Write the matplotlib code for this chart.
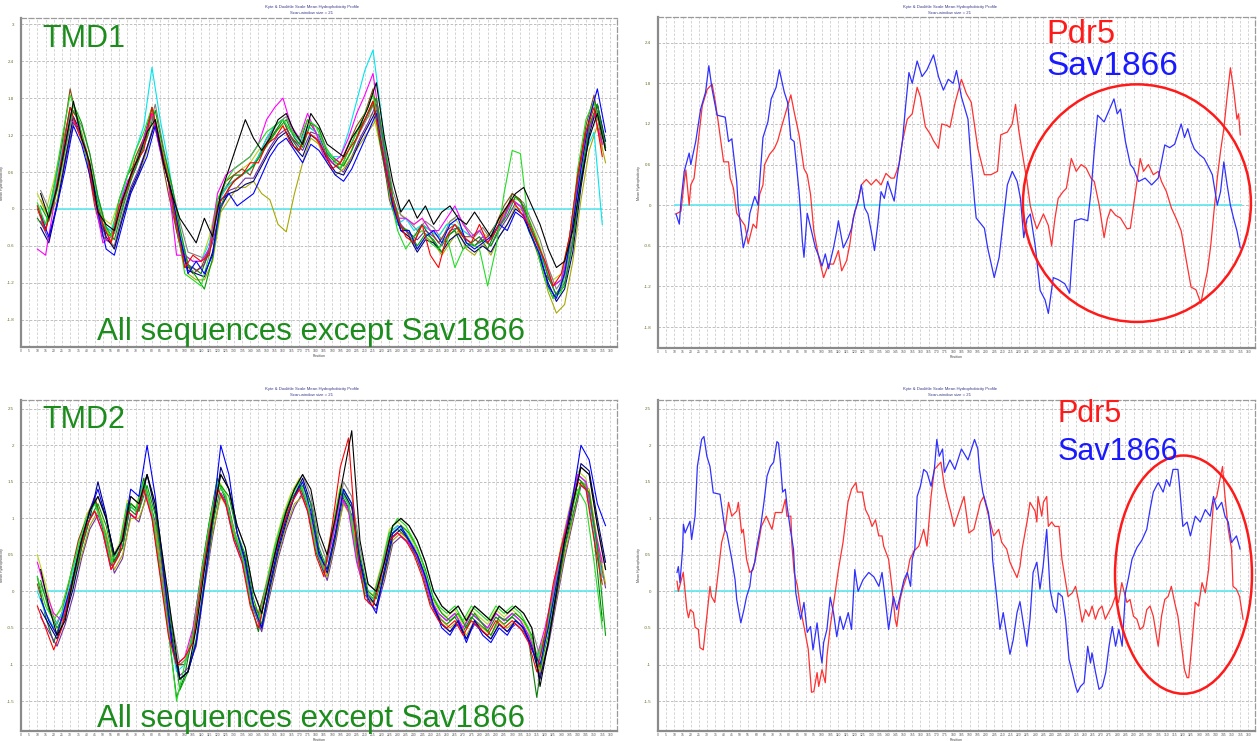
import matplotlib
matplotlib.use('Agg')
import matplotlib.pyplot as plt
from matplotlib.patches import Ellipse
import numpy as np

plt.rcParams['font.family'] = ['Liberation Sans', 'DejaVu Sans']

# ---------------- data ----------------
# left panels: profiles sampled every 5 residues (two interleaved read-off grids)
grid_a = list(range(10, 356, 5))
grid_b = list(range(12, 358, 5))

tmd1_black = [0.25, -0.15, 0.35, 1.05, 1.75, 1.15, 0.75, -0.05, -0.25, -0.35,
              0.15, 0.55, 0.85, 1.25, 1.45, 0.75, 0.25, -0.15, -0.35, -0.55,
              -0.15, -0.45, 0.25, 0.65, 1.05, 1.45, 1.15, 0.95, 1.15, 1.45,
              1.55, 1.25, 1.05, 1.55, 1.35, 1.05, 0.95, 0.85, 1.15, 1.35,
              1.65, 2.05, 1.15, 0.45, -0.05, 0.15, -0.15, 0.05, -0.25, -0.05,
              0.05, -0.15, -0.25, -0.05, -0.25, -0.45, -0.15, 0.05, 0.25, 0.35,
              0.05, -0.25, -0.65, -0.95, -0.85, -0.35, 0.45, 1.15, 1.55, 0.95]
tmd1_red = [0.05, -0.35, 0.15, 0.85, 1.65, 1.25, 0.95, 0.15, -0.25, -0.55,
            0.05, 0.35, 0.75, 0.95, 1.65, 1.05, 0.45, -0.25, -0.95, -0.75,
            -0.85, -0.75, 0.05, 0.25, 0.45, 0.55, 0.75, 0.75, 1.05, 1.15,
            1.35, 1.05, 0.95, 1.25, 1.15, 0.95, 0.65, 0.75, 0.95, 1.15,
            1.45, 1.75, 1.05, 0.35, -0.15, -0.45, -0.55, -0.25, -0.75, -0.95,
            -0.45, -0.25, -0.45, -0.55, -0.25, -0.55, -0.35, -0.05, 0.15, -0.05,
            -0.25, -0.55, -0.85, -1.25, -1.05, -0.45, 0.55, 1.25, 1.65, 0.85]
tmd1_blue = [-0.1, -0.45, 0.05, 0.65, 1.35, 1.05, 0.55, -0.05, -0.65, -0.75,
             -0.25, 0.25, 0.55, 0.85, 1.35, 0.75, 0.25, -0.45, -1.05, -0.85,
             -1.05, -0.75, 0.15, 0.25, 0.05, 0.15, 0.25, 0.55, 0.85, 1.05,
             1.15, 0.95, 0.75, 1.05, 0.95, 0.75, 0.55, 0.45, 0.65, 0.95,
             1.25, 1.55, 0.75, 0.05, -0.35, -0.35, -0.65, -0.45, -0.35, -0.55,
             -0.25, -0.15, -0.55, -0.65, -0.55, -0.45, -0.25, -0.35, -0.05, -0.15,
             -0.45, -0.75, -1.25, -1.45, -1.05, -0.25, 0.65, 1.45, 1.95, 1.25]
tmd1_lime = [0.1, -0.25, 0.35, 1.15, 1.85, 1.45, 0.85, 0.25, -0.25, -0.45,
             0.15, 0.55, 0.95, 1.25, 1.65, 1.05, 0.45, -0.25, -1.05, -1.15,
             -1.25, -0.75, 0.15, 0.45, 0.65, 0.75, 0.85, 1.05, 1.25, 1.35,
             1.45, 1.25, 1.15, 1.45, 1.35, 1.05, 0.85, 0.65, 0.95, 1.25,
             1.55, 1.85, 1.15, 0.25, -0.35, -0.65, -0.45, -0.35, -0.55, -0.65,
             -0.45, -0.95, -0.65, -0.55, -0.65, -1.25, -0.65, 0.25, 0.95, 0.9,
             -0.25, -0.65, -1.15, -1.45, -1.35, -0.65, 0.65, 1.45, 1.75, 1.15]
tmd1_magenta = [-0.65, -0.75, 0.05, 0.85, 1.45, 1.35, 0.85, 0.15, -0.55, -0.45,
                0.05, 0.45, 0.65, 1.15, 1.55, 0.95, 0.45, -0.75, -0.75, -0.85,
                -0.85, -0.65, 0.25, 0.55, 0.65, 0.75, 0.85, 1.05, 1.45, 1.65,
                1.8, 1.35, 1.15, 1.55, 1.25, 0.85, 0.75, 0.85, 1.15, 1.55,
                1.85, 2.2, 1.25, 0.35, -0.15, -0.15, -0.25, -0.15, -0.35, -0.35,
                -0.15, 0.05, -0.25, -0.45, -0.35, -0.55, -0.35, -0.15, 0.15, 0.05,
                -0.25, -0.55, -0.85, -1.25, -1.15, -0.65, 0.35, 1.15, 1.55, 1.05]
tmd1_cyan = [0.05, -0.25, 0.25, 0.95, 1.55, 1.35, 0.95, 0.35, -0.25, -0.35,
             0.05, 0.55, 0.95, 1.35, 2.3, 1.45, 0.75, -0.15, -0.75, -0.85,
             -0.85, -0.55, 0.05, 0.35, 0.45, 0.55, 0.65, 0.85, 1.15, 1.35,
             1.45, 1.25, 1.05, 1.35, 1.25, 0.95, 0.85, 0.85, 1.25, 1.75,
             2.25, 2.58, 1.55, 0.35, -0.25, -0.15, -0.35, -0.25, -0.35, -0.45,
             -0.25, -0.25, -0.35, -0.45, -0.35, -0.55, -0.25, -0.15, 0.15, 0.05,
             -0.25, -0.55, -0.95, -1.25, -1.15, -0.55, 0.25, 0.95, 1.25, -0.25]
tmd1_olive = [0.15, -0.15, 0.15, 0.85, 1.45, 1.25, 0.75, 0.15, -0.35, -0.65,
              -0.15, 0.25, 0.55, 0.95, 1.45, 0.85, 0.35, -0.35, -1.05, -1.15,
              -1.15, -0.85, -0.05, 0.15, 0.35, 0.35, 0.45, 0.25, 0.15, -0.25,
              -0.37, 0.25, 0.75, 1.15, 1.05, 0.75, 0.55, 0.65, 0.85, 1.05,
              1.25, 1.45, 0.85, 0.15, -0.35, -0.45, -0.65, -0.45, -0.55, -0.75,
              -0.55, -0.35, -0.65, -0.75, -0.55, -0.75, -0.45, -0.25, 0.05, -0.05,
              -0.45, -0.85, -1.35, -1.69, -1.55, -0.85, 0.15, 0.95, 1.35, 0.75]
tmd1_brown = [0.0, -0.35, 0.25, 1.05, 1.95, 1.35, 0.85, 0.05, -0.45, -0.55,
              -0.05, 0.35, 0.85, 1.15, 1.55, 0.95, 0.25, -0.35, -0.85, -1.05,
              -0.95, -0.65, 0.05, 0.45, 0.55, 0.65, 0.55, 0.85, 1.15, 1.35,
              1.45, 1.15, 1.05, 1.45, 1.25, 0.95, 0.85, 0.75, 1.05, 1.35,
              1.55, 1.95, 1.05, 0.15, -0.25, -0.35, -0.55, -0.25, -0.35, -0.55,
              -0.35, -0.25, -0.45, -0.45, -0.55, -0.45, -0.25, 0.05, 0.25, 0.15,
              -0.25, -0.55, -1.05, -1.25, -1.15, -0.45, 0.55, 1.35, 1.85, 1.05]
tmd1_dkgreen = [-0.15, -0.35, 0.35, 0.95, 1.65, 1.45, 0.85, 0.15, -0.35, -0.45,
                0.15, 0.55, 0.75, 1.15, 1.65, 1.05, 0.45, -0.35, -0.95, -0.95,
                -1.05, -0.65, 0.15, 0.35, 0.55, 0.55, 0.65, 0.85, 1.05, 1.25,
                1.45, 1.15, 0.95, 1.35, 1.25, 0.95, 0.75, 0.65, 0.95, 1.25,
                1.45, 1.75, 0.95, 0.25, -0.25, -0.35, -0.45, -0.25, -0.45, -0.65,
                -0.45, -0.35, -0.65, -0.55, -0.45, -0.65, -0.35, -0.15, 0.25, 0.15,
                -0.35, -0.65, -1.15, -1.45, -1.25, -0.65, 0.45, 1.25, 1.75, 1.15]
tmd1_ygreen = [0.25, -0.05, 0.45, 1.05, 1.55, 1.25, 0.85, 0.25, -0.15, -0.25,
               0.15, 0.55, 0.85, 1.15, 1.55, 1.05, 0.45, -0.15, -0.75, -0.85,
               -0.85, -0.45, 0.15, 0.45, 0.55, 0.65, 0.75, 0.95, 1.05, 1.25,
               1.35, 1.05, 0.95, 1.25, 1.15, 0.85, 0.75, 0.65, 0.85, 1.15,
               1.45, 1.55, 0.95, 0.35, -0.05, -0.15, -0.25, -0.15, -0.35, -0.45,
               -0.25, -0.15, -0.35, -0.45, -0.35, -0.45, -0.25, -0.05, 0.15, 0.15,
               -0.15, -0.45, -0.85, -1.15, -1.05, -0.45, 0.45, 1.25, 1.55, 0.95]
tmd1_purple = [-0.2, -0.5, 0.1, 0.75, 1.4, 1.2, 0.65, 0.0, -0.5, -0.6,
               -0.1, 0.35, 0.65, 1.0, 1.45, 0.85, 0.3, -0.4, -0.9, -1.0,
               -0.9, -0.55, 0.0, 0.3, 0.35, 0.5, 0.5, 0.75, 1.0, 1.2,
               1.3, 1.1, 0.95, 1.25, 1.2, 0.85, 0.7, 0.6, 0.85, 1.15,
               1.4, 1.7, 0.95, 0.2, -0.25, -0.4, -0.5, -0.35, -0.45, -0.6,
               -0.35, -0.3, -0.5, -0.6, -0.45, -0.6, -0.35, -0.15, 0.1, 0.0,
               -0.35, -0.7, -1.1, -1.4, -1.2, -0.55, 0.45, 1.3, 1.7, 1.0]
tmd1_gray = [0.3, 0.0, 0.3, 0.95, 1.6, 1.35, 0.9, 0.2, -0.3, -0.4,
             0.05, 0.5, 0.8, 1.2, 1.7, 1.0, 0.4, -0.2, -0.7, -0.75,
             -0.8, -0.5, 0.2, 0.4, 0.5, 0.6, 0.7, 0.9, 1.2, 1.4,
             1.5, 1.2, 1.05, 1.4, 1.3, 0.95, 0.8, 0.7, 0.95, 1.25,
             1.5, 1.8, 1.05, 0.3, -0.1, -0.2, -0.35, -0.2, -0.3, -0.5,
             -0.2, -0.1, -0.3, -0.45, -0.3, -0.5, -0.25, 0.0, 0.2, 0.1,
             -0.2, -0.5, -0.95, -1.3, -1.1, -0.45, 0.5, 1.3, 1.6, 0.95]
tmd1_navy = [-0.3, -0.55, 0.05, 0.8, 1.5, 1.2, 0.7, 0.05, -0.45, -0.65,
             -0.15, 0.3, 0.6, 1.0, 1.4, 0.8, 0.25, -0.45, -1.0, -1.05,
             -1.1, -0.7, 0.05, 0.25, 0.3, 0.4, 0.45, 0.7, 0.95, 1.15,
             1.25, 1.0, 0.85, 1.2, 1.1, 0.8, 0.6, 0.55, 0.8, 1.1,
             1.35, 1.6, 0.85, 0.1, -0.35, -0.45, -0.7, -0.5, -0.55, -0.7,
             -0.5, -0.4, -0.6, -0.7, -0.6, -0.7, -0.45, -0.25, 0.0, -0.1,
             -0.45, -0.8, -1.2, -1.5, -1.3, -0.7, 0.35, 1.2, 1.7, 1.1]
tmd1_green = [0.05, -0.2, 0.3, 1.0, 1.7, 1.4, 0.9, 0.2, -0.3, -0.5,
              0.0, 0.45, 0.8, 1.15, 1.6, 0.95, 0.4, -0.3, -0.9, -1.1,
              -1.3, -0.8, 0.05, 0.35, 0.5, 0.6, 0.7, 0.9, 1.1, 1.3,
              1.45, 1.15, 1.0, 1.4, 1.3, 0.9, 0.75, 0.7, 0.95, 1.3,
              1.55, 1.8, 1.0, 0.2, -0.3, -0.35, -0.6, -0.4, -0.5, -0.7,
              -0.4, -0.3, -0.55, -0.6, -0.5, -0.6, -0.3, -0.1, 0.2, 0.05,
              -0.3, -0.65, -1.1, -1.4, -1.25, -0.55, 0.5, 1.35, 1.7, 1.0]

tmd2_black = [0.3, -0.2, -0.6, -0.4, 0.2, 0.7, 1.1, 1.3, 1.0, 0.5,
              0.7, 1.3, 1.2, 1.6, 1.2, 0.4, -0.4, -1.2, -1.1, -0.5,
              0.3, 1.0, 1.6, 1.4, 0.9, 0.6, 0.0, -0.3, 0.2, 0.7,
              1.1, 1.4, 1.6, 1.4, 0.8, 0.5, 1.0, 1.6, 2.2, 0.7,
              0.1, 0.0, 0.4, 0.9, 1.0, 0.9, 0.7, 0.4, 0.0, -0.2,
              -0.3, -0.2, -0.4, -0.2, -0.3, -0.4, -0.2, -0.3, -0.2, -0.3,
              -0.5, -1.3, -0.7, 0.0, 0.7, 1.2, 1.7, 1.6, 0.9, 0.3]
tmd2_red = [-0.2, -0.5, -0.8, -0.5, 0.0, 0.5, 0.9, 1.1, 0.8, 0.3,
            0.5, 1.1, 1.0, 1.4, 1.0, 0.2, -0.6, -1.0, -0.9, -0.7,
            0.1, 0.8, 1.4, 1.2, 0.7, 0.4, -0.2, -0.5, 0.0, 0.5,
            0.9, 1.2, 1.4, 1.1, 0.5, 0.2, 0.9, 1.7, 2.1, 0.6,
            -0.1, -0.2, 0.2, 0.7, 0.8, 0.7, 0.5, 0.2, -0.2, -0.4,
            -0.5, -0.4, -0.6, -0.4, -0.5, -0.6, -0.4, -0.5, -0.4, -0.5,
            -0.7, -1.1, -0.6, 0.1, 0.6, 1.0, 1.5, 1.4, 0.7, 0.1]
tmd2_blue = [-0.1, -0.4, -0.6, -0.2, 0.2, 0.7, 1.1, 1.4, 1.0, 0.5,
             0.7, 1.4, 1.3, 2.0, 1.3, 0.3, -0.7, -1.2, -1.1, -0.7,
             0.1, 1.0, 2.0, 1.6, 0.8, 0.4, -0.2, -0.5, 0.1, 0.6,
             1.0, 1.3, 1.5, 1.1, 0.5, 0.3, 0.8, 1.4, 1.2, 0.4,
             -0.1, -0.3, 0.3, 0.8, 0.9, 0.7, 0.5, 0.2, -0.2, -0.5,
             -0.6, -0.4, -0.7, -0.4, -0.6, -0.7, -0.5, -0.6, -0.4, -0.5,
             -0.8, -1.0, -0.5, 0.1, 0.7, 1.3, 2.0, 1.8, 1.2, 0.9]
tmd2_lime = [0.2, -0.2, -0.4, -0.2, 0.2, 0.6, 1.0, 1.2, 0.9, 0.4,
             0.6, 1.2, 1.1, 1.5, 1.1, 0.3, -0.5, -1.5, -1.0, -0.6,
             0.2, 0.9, 1.5, 1.3, 0.8, 0.5, -0.1, -0.4, 0.1, 0.6,
             1.0, 1.3, 1.5, 1.2, 0.6, 0.3, 0.8, 1.4, 1.2, 0.5,
             0.0, -0.1, 0.3, 0.8, 1.0, 0.9, 0.7, 0.4, 0.0, -0.2,
             -0.3, -0.2, -0.4, -0.2, -0.3, -0.4, -0.2, -0.3, -0.2, -0.3,
             -0.5, -0.9, -0.6, -0.1, 0.5, 1.0, 1.4, 1.2, 0.4, -0.5]
tmd2_magenta = [0.4, 0.0, -0.3, -0.4, 0.0, 0.5, 0.9, 1.1, 0.8, 0.3,
                0.5, 1.1, 1.0, 1.4, 1.0, 0.3, -0.5, -1.0, -0.9, -0.5,
                0.2, 0.8, 1.4, 1.2, 0.7, 0.4, -0.1, -0.4, 0.1, 0.5,
                0.9, 1.2, 1.4, 1.1, 0.6, 0.3, 0.7, 1.3, 1.1, 0.4,
                0.0, -0.1, 0.3, 0.7, 0.8, 0.7, 0.6, 0.3, -0.1, -0.3,
                -0.4, -0.3, -0.5, -0.3, -0.4, -0.5, -0.3, -0.4, -0.3, -0.4,
                -0.6, -0.9, -0.5, 0.0, 0.6, 1.1, 1.6, 1.5, 0.9, 0.4]
tmd2_cyan = [0.0, -0.3, -0.5, -0.3, 0.1, 0.6, 1.0, 1.2, 0.9, 0.4,
             0.6, 1.2, 1.1, 1.5, 1.1, 0.3, -0.5, -1.1, -1.0, -0.6,
             0.2, 0.9, 1.5, 1.3, 0.8, 0.5, -0.1, -0.4, 0.1, 0.6,
             1.0, 1.3, 1.5, 1.2, 0.6, 0.3, 0.8, 1.4, 1.2, 0.5,
             0.0, -0.1, 0.3, 0.8, 0.9, 0.8, 0.6, 0.3, -0.1, -0.3,
             -0.4, -0.3, -0.5, -0.3, -0.4, -0.5, -0.3, -0.4, -0.3, -0.4,
             -0.6, -1.0, -0.6, 0.0, 0.6, 1.1, 1.6, 1.5, 0.8, 0.2]
tmd2_olive = [-0.1, -0.4, -0.6, -0.3, 0.1, 0.5, 0.9, 1.1, 0.8, 0.3,
              0.5, 1.0, 1.0, 1.3, 0.9, 0.2, -0.6, -1.2, -1.1, -0.7,
              0.1, 0.8, 1.3, 1.1, 0.7, 0.4, -0.2, -0.5, 0.0, 0.5,
              0.9, 1.2, 1.3, 1.0, 0.5, 0.2, 0.7, 1.2, 1.0, 0.4,
              -0.1, -0.2, 0.2, 0.7, 0.8, 0.7, 0.5, 0.2, -0.2, -0.4,
              -0.5, -0.4, -0.6, -0.4, -0.5, -0.6, -0.4, -0.5, -0.4, -0.5,
              -0.7, -1.1, -0.7, -0.1, 0.5, 1.0, 1.5, 1.4, 0.7, 0.1]
tmd2_brown = [0.1, -0.3, -0.5, -0.3, 0.2, 0.7, 1.0, 1.3, 0.9, 0.4,
              0.6, 1.2, 1.1, 1.5, 1.1, 0.3, -0.4, -1.0, -1.0, -0.6,
              0.2, 0.9, 1.5, 1.3, 0.8, 0.5, -0.1, -0.3, 0.1, 0.6,
              1.0, 1.3, 1.5, 1.2, 0.6, 0.3, 0.8, 1.4, 1.2, 0.5,
              0.0, -0.1, 0.3, 0.8, 0.9, 0.8, 0.6, 0.3, -0.1, -0.3,
              -0.4, -0.3, -0.5, -0.3, -0.4, -0.5, -0.3, -0.4, -0.3, -0.4,
              -0.6, -1.0, -0.6, 0.0, 0.6, 1.1, 1.6, 1.5, 0.8, 0.2]
tmd2_dkgreen = [0.2, -0.35, -0.7, -0.35, 0.05, 0.55, 0.95, 1.25, 0.85, 0.35,
                0.55, 1.15, 1.05, 1.55, 1.05, 0.25, -0.55, -1.45, -1.15, -0.55,
                0.25, 0.95, 1.55, 1.25, 0.75, 0.45, -0.15, -0.55, 0.05, 0.55,
                0.95, 1.25, 1.45, 1.15, 0.55, 0.25, 0.75, 1.35, 1.15, 0.45,
                -0.05, -0.15, 0.25, 0.75, 0.85, 0.75, 0.55, 0.25, -0.15, -0.35,
                -0.45, -0.35, -0.55, -0.35, -0.45, -0.55, -0.35, -0.45, -0.35, -0.45,
                -0.65, -1.45, -0.65, -0.05, 0.55, 1.05, 1.55, 1.45, 0.75, -0.4]
tmd2_ygreen = [0.5, 0.1, -0.35, -0.25, 0.15, 0.65, 1.05, 1.25, 0.95, 0.45,
               0.65, 1.25, 1.15, 1.55, 1.15, 0.35, -0.45, -1.05, -0.95, -0.55,
               0.25, 0.95, 1.55, 1.35, 0.85, 0.55, -0.05, -0.35, 0.15, 0.65,
               1.05, 1.35, 1.55, 1.25, 0.65, 0.35, 0.85, 1.45, 1.25, 0.55,
               0.05, -0.05, 0.35, 0.85, 0.95, 0.85, 0.65, 0.35, -0.05, -0.25,
               -0.35, -0.25, -0.45, -0.25, -0.35, -0.45, -0.25, -0.35, -0.25, -0.35,
               -0.55, -0.95, -0.55, 0.05, 0.65, 1.15, 1.65, 1.55, 0.85, 0.25]
tmd2_purple = [-0.35, -0.55, -0.75, -0.45, -0.05, 0.45, 0.85, 1.05, 0.75, 0.25,
               0.45, 1.05, 0.95, 1.35, 0.95, 0.15, -0.65, -1.15, -1.05, -0.75,
               0.05, 0.75, 1.35, 1.15, 0.65, 0.35, -0.25, -0.55, -0.05, 0.45,
               0.85, 1.15, 1.35, 1.05, 0.45, 0.15, 0.65, 1.25, 1.05, 0.35,
               -0.15, -0.25, 0.15, 0.65, 0.75, 0.65, 0.45, 0.15, -0.25, -0.45,
               -0.55, -0.45, -0.65, -0.45, -0.55, -0.65, -0.45, -0.55, -0.45, -0.55,
               -0.75, -1.15, -0.75, -0.15, 0.45, 0.95, 1.45, 1.35, 0.65, 0.05]
tmd2_gray = [0.1, -0.2, -0.45, -0.2, 0.2, 0.7, 1.1, 1.3, 1.0, 0.5,
             0.7, 1.3, 1.2, 1.6, 1.2, 0.4, -0.4, -1.0, -0.9, -0.5,
             0.3, 1.0, 1.6, 1.4, 0.9, 0.6, 0.0, -0.3, 0.2, 0.7,
             1.1, 1.4, 1.6, 1.3, 0.7, 0.4, 0.9, 1.5, 1.3, 0.6,
             0.1, 0.0, 0.4, 0.9, 1.0, 0.9, 0.7, 0.4, 0.0, -0.2,
             -0.3, -0.2, -0.4, -0.2, -0.3, -0.4, -0.2, -0.3, -0.2, -0.3,
             -0.5, -0.9, -0.5, 0.1, 0.7, 1.2, 1.7, 1.6, 0.9, 0.3]
tmd2_navy = [-0.25, -0.45, -0.65, -0.35, 0.05, 0.6, 1.0, 1.5, 1.05, 0.4,
             0.6, 1.2, 1.1, 1.6, 1.1, 0.25, -0.6, -1.2, -1.1, -0.7,
             0.1, 0.9, 1.7, 1.4, 0.8, 0.45, -0.2, -0.5, 0.05, 0.55,
             0.95, 1.3, 1.55, 1.2, 0.55, 0.25, 0.75, 1.35, 1.15, 0.45,
             -0.05, -0.2, 0.25, 0.75, 0.85, 0.7, 0.5, 0.2, -0.2, -0.45,
             -0.55, -0.4, -0.65, -0.4, -0.55, -0.65, -0.45, -0.55, -0.4, -0.5,
             -0.75, -1.2, -0.7, -0.05, 0.6, 1.15, 1.75, 1.65, 1.0, 0.4]
tmd2_green = [0.15, -0.25, -0.5, -0.3, 0.15, 0.6, 1.0, 1.2, 0.9, 0.4,
              0.6, 1.2, 1.1, 1.45, 1.05, 0.3, -0.5, -1.35, -1.1, -0.65,
              0.15, 0.9, 1.45, 1.3, 0.8, 0.5, -0.1, -0.45, 0.1, 0.6,
              1.0, 1.3, 1.45, 1.2, 0.6, 0.3, 0.8, 1.4, 1.2, 0.5,
              0.0, -0.1, 0.3, 0.8, 0.9, 0.8, 0.6, 0.3, -0.1, -0.3,
              -0.4, -0.3, -0.5, -0.3, -0.45, -0.6, -0.35, -0.4, -0.3, -0.4,
              -0.6, -1.05, -0.6, 0.0, 0.6, 1.05, 1.5, 1.35, 0.6, -0.6]

# right panels: Pdr5 vs Sav1866 (irregular read-off positions)
sav_tmd1_pos = [11, 13, 14, 16, 19, 20, 23, 26, 29, 31, 33, 36, 41, 43, 45, 48, 49, 50, 52, 55,
                56, 59, 61, 62, 64, 67, 69, 72, 74, 77, 79, 81, 83, 85, 86, 87, 88, 89, 91, 94,
                96, 98, 100, 102, 104, 107, 109, 110, 113, 116, 118, 120, 122, 124, 126, 128, 130, 132, 134, 136,
                138, 140, 144, 146, 149, 151, 153, 155, 158, 161, 164, 168, 171, 174, 177, 180, 182, 185, 189, 191,
                192, 193, 194, 199, 201, 205, 208, 211, 213, 216, 219, 221, 223, 225, 227, 230, 233, 236, 238, 241,
                244, 248, 251, 254, 258, 262, 264, 266, 268, 272, 275, 278, 280, 282, 285, 288, 290, 293, 297, 301,
                305, 309, 312, 315, 319, 321, 323, 325, 327, 330, 333, 336, 338, 341, 343, 345, 347, 349, 351, 353, 355]
sav_tmd1_val = [-0.13, -0.28, 0.06, 0.5, 0.77, 0.6, 0.94, 1.42, 1.67, 2.06, 1.71, 1.33, 1.3, 0.94, 0.98, 0.35, -0.04, -0.23, -0.63, -0.34,
                -0.12, 0.13, 0.0, 0.35, 1.0, 1.23, 1.57, 1.74, 2.0, 1.67, 1.52, 0.98, 0.94, 0.45, 0.2, -0.13, -0.53, -0.77, -0.12, -0.43,
                -0.63, -0.75, -0.9, -0.72, -0.94, -0.63, -0.38, -0.23, -0.63, -0.48, -0.34, -0.09, 0.06, 0.3, -0.04, -0.13, -0.38, -0.67, -0.28, 0.2,
                0.1, 0.35, 0.06, 0.45, 0.94, 1.47, 1.96, 1.8, 2.13, 1.9, 2.0, 2.22, 1.9, 1.7, 1.86, 1.8, 1.99, 1.6, 1.27, 0.6,
                0.35, 0.06, -0.19, -0.34, -0.63, -1.07, -0.77, -0.13, 0.3, 0.5, 0.35, 0.1, -0.48, -0.2, -0.13, -0.6, -1.26, -1.4, -1.6, -1.07,
                -1.1, -1.16, -1.3, -0.23, -0.2, -0.23, 0.2, 0.8, 1.33, 1.23, 1.4, 1.57, 1.35, 1.42, 0.94, 0.6, 0.54, 0.35, 0.4, 0.3,
                0.4, 0.89, 0.85, 0.9, 1.2, 1.0, 1.13, 0.95, 0.83, 0.75, 0.69, 0.55, 0.45, 0.0, 0.2, 0.64, 0.3, 0.0, -0.2, -0.38, -0.63]

pdr5_tmd1_pos = [11, 14, 16, 17, 19, 20, 22, 25, 27, 30, 33, 35, 37, 40, 43, 44, 46, 48, 51, 53,
                 55, 58, 60, 62, 64, 65, 68, 71, 73, 75, 78, 81, 83, 86, 89, 91, 93, 95, 98, 101,
                 104, 107, 110, 112, 115, 117, 119, 122, 124, 127, 130, 133, 136, 139, 142, 144, 147, 149, 152, 155,
                 158, 160, 163, 166, 168, 171, 173, 176, 178, 181, 185, 188, 191, 195, 199, 203, 207, 209, 213, 216,
                 218, 220, 223, 225, 227, 229, 231, 235, 238, 240, 242, 244, 247, 249, 252, 255, 258, 261, 264, 266,
                 269, 272, 274, 276, 279, 282, 286, 288, 290, 292, 294, 296, 299, 302, 305, 307, 310, 313, 316, 319,
                 322, 325, 328, 331, 333, 335, 337, 339, 341, 343, 345, 347, 349, 351, 353, 354, 355]
pdr5_tmd1_val = [-0.13, -0.09, 0.35, 0.52, 0.0, 0.3, 0.4, 1.04, 1.47, 1.71, 1.79, 1.52, 1.18, 0.64, 0.64, 0.4, 0.25, -0.12, -0.23, -0.3,
                 -0.57, -0.28, -0.34, 0.16, 0.3, 0.6, 0.75, 0.84, 0.95, 1.13, 1.38, 1.63, 1.38, 1.04, 0.54, 0.45, 0.16, -0.38, -0.77, -1.07,
                 -0.87, -0.87, -0.67, -0.97, -0.82, -0.57, -0.19, 0.06, 0.3, 0.38, 0.3, 0.38, 0.3, 0.47, 0.4, 0.4, 0.6, 0.94, 1.27, 1.35,
                 1.74, 1.6, 1.16, 1.05, 0.95, 0.84, 1.2, 1.18, 1.15, 1.5, 1.86, 1.65, 1.52, 0.84, 0.45, 0.45, 0.5, 1.04, 1.08, 1.2,
                 1.49, 1.1, 0.64, 0.35, -0.01, -0.2, -0.35, -0.13, -0.3, -0.6, -0.2, 0.1, 0.2, 0.25, 0.69, 0.5, 0.6, 0.55, 0.4, 0.35,
                 0.0, -0.48, -0.2, -0.06, -0.15, -0.19, -0.35, -0.34, 0.0, 0.35, 0.69, 0.5, 0.6, 0.45, 0.5, 0.35, 0.2, -0.04, -0.2, -0.38,
                 -0.8, -1.21, -1.25, -1.45, -1.2, -0.97, -0.6, -0.09, 0.4, 0.8, 1.13, 1.6, 2.03, 1.7, 1.27, 1.35, 1.04]

sav_tmd2_pos = [11.6, 12.4, 13.4, 15, 15.5, 16.5, 19.5, 20.5, 22.6, 24, 26.6, 28, 29.8, 31.7, 33.7, 37.8, 40.8, 42, 45, 47,
                48, 50.5, 52.4, 54, 56, 57, 59, 60, 62.6, 64.6, 66.5, 68.5, 70.5, 72.5, 73.5, 74.6, 76, 77.6, 78.7, 80.7,
                82.6, 84, 85, 87, 89, 91, 93, 94.5, 97, 99, 100, 101, 103, 105, 107, 109, 111, 113, 116, 118,
                120, 122, 125, 128.5, 131.6, 134.7, 136.6, 138.6, 140.6, 143.6, 145.6, 147.6, 150, 152, 154, 155, 156.6, 158, 160, 162,
                164, 166.5, 168.5, 170, 171.5, 173.5, 174.6, 178, 181, 185, 189, 193, 195, 196, 198, 201.5, 203.6, 204, 206.5, 208.5,
                210.5, 212.8, 214.6, 216.6, 218.9, 220.7, 222.6, 224.9, 226.8, 228.7, 231, 232.9, 234.8, 237, 239, 241, 243, 244, 246.5, 248.5,
                250.6, 252.6, 254.6, 255.8, 257.6, 259.8, 262, 263.7, 264.6, 266.8, 268.9, 270.9, 273, 275, 277, 279, 281, 283, 285, 287,
                289, 292, 295, 298, 300, 302, 305, 308, 310, 312, 314, 317, 318, 320, 322.6, 324.6, 327.6, 330.6, 333.7, 336.7,
                338.7, 340.7, 343.7, 345.7, 347.7, 349.7, 352.7, 354.9]
sav_tmd2_val = [0.26, 0.34, 0.12, 0.58, 0.92, 0.8, 0.96, 0.71, 1.03, 1.71, 2.08, 2.12, 1.85, 1.71, 1.35, 1.33, 0.85, 0.8, 0.44, 0.16,
                -0.11, -0.43, -0.25, -0.07, 0.07, 0.26, 0.4, 0.58, 0.89, 1.22, 1.58, 1.71, 1.77, 2.05, 2.03, 1.77, 1.36, 1.4, 1.17, 0.85,
                0.58, -0.02, -0.15, -0.38, -0.15, -0.56, -0.48, -0.8, -0.43, -0.84, -0.98, -0.7, -0.52, -0.08, -0.29, -0.62, -0.34, -0.52, -0.29, -0.52,
                0.3, 0.0, 0.16, 0.26, 0.2, 0.07, 0.26, -0.11, -0.52, -0.07, -0.25, -0.07, 0.16, 0.26, 0.07, 0.44, 0.58, 1.3, 1.44, 1.67,
                1.63, 1.44, 1.67, 2.08, 1.85, 1.95, 1.63, 1.8, 1.67, 1.95, 1.8, 2.08, 1.95, 1.67, 1.36, 1.08, 0.67, 0.44, -0.07, -0.52,
                -0.29, -0.62, -0.86, -0.66, -0.29, -0.14, -0.42, -0.75, -0.38, 0.26, 0.4, 0.03, 0.34, 0.85, 0.03, -0.2, -0.29, -0.02, -0.07, -0.38,
                -0.93, -1.11, -1.3, -1.38, -1.3, -1.25, -0.75, -0.98, -0.84, -1.11, -1.34, -1.3, -1.11, -0.75, -0.48, -0.75, -0.52, -0.75, -0.02, 0.2,
                0.44, 0.6, 0.7, 0.85, 1.12, 1.36, 1.49, 1.36, 1.53, 1.44, 1.67, 1.67, 1.44, 0.89, 0.95, 0.76, 1.03, 0.95, 1.12, 1.03,
                1.3, 1.12, 1.22, 1.03, 0.95, 0.67, 0.76, 0.58]

pdr5_tmd2_pos = [11.6, 12.4, 15.4, 17.6, 18.6, 19.7, 21.6, 22.6, 24.6, 25.6, 27.6, 29.6, 31.7, 32.6, 34.6, 36.7, 38.8, 40.9, 43, 45,
                 48, 49, 51, 52, 54, 56, 58, 61, 63, 66, 69.5, 71.5, 75.6, 77.6, 78.6, 81, 81.7, 83, 85, 87,
                 89, 91.6, 93.6, 95, 97, 98, 100, 102, 103, 105, 108, 110, 112.8, 115.8, 118, 120.7, 121.5, 124.6, 126.5, 128.5,
                 130.5, 132.6, 134.6, 136.6, 137.6, 140.6, 142.6, 144.6, 145.6, 147.6, 149.6, 151.6, 153.6, 156, 159, 162, 164, 166.5, 168.5, 172.5,
                 174.6, 176.5, 178.6, 180.5, 183.6, 186.6, 189.6, 192.6, 196.6, 198.6, 201.6, 204.7, 207.7, 209.6, 212.6, 214.6, 216.6, 218.9, 220.7, 222,
                 225.6, 226.8, 229.9, 231, 231.7, 234, 235, 237, 238, 240, 242, 244.5, 246.3, 248.3, 250, 252.6, 254.6, 256.6, 258.6, 260.7,
                 262.7, 264.7, 266.7, 268.7, 270.7, 272.7, 274.7, 276.8, 278.8, 280.8, 282.8, 283.8, 285.9, 287.8, 289.9, 292, 293.9, 296, 298, 300,
                 302, 304, 305, 307, 309, 311, 313, 315, 317, 319, 321, 322.6, 323.6, 325.6, 327.6, 329.6, 331.7, 333.7, 335.7, 336.7,
                 338.7, 340.7, 342.6, 344.2, 345.7, 347.7, 349.7, 350.6, 352.7, 354.6, 356.7]
pdr5_tmd2_val = [0.14, 0.0, 0.26, -0.25, -0.36, -0.25, -0.29, -0.49, -0.52, -0.77, -0.8, -0.38, 0.07, -0.07, -0.15, 0.26, 0.67, 0.85, 1.22, 1.03,
                 1.1, 1.22, 0.8, 0.85, 0.44, 0.26, 0.3, 0.62, 0.89, 1.03, 0.85, 1.08, 1.08, 1.26, 1.03, 1.03, 0.62, 0.26, 0.07, -0.25,
                 -0.48, -0.79, -1.38, -1.37, -1.11, -1.3, -1.07, -1.25, -0.89, -0.48, -0.02, 0.3, 0.67, 1.22, 1.4, 1.49, 1.36, 1.36, 1.12, 1.03,
                 0.89, 0.98, 0.76, 0.76, 0.62, 0.44, 0.07, -0.38, -0.48, -0.11, 0.07, 0.2, 0.44, 0.55, 0.62, 0.85, 0.62, 1.3, 1.67, 1.77,
                 1.44, 1.26, 1.08, 0.89, 1.1, 1.3, 0.8, 0.85, 1.22, 1.3, 1.03, 0.76, 0.85, 0.67, 0.58, 0.4, 0.3, 0.19, 0.34, 0.58,
                 1.03, 1.22, 1.1, 0.95, 1.3, 1.03, 1.22, 1.3, 0.89, 0.95, 0.89, 0.89, 0.44, 0.16, -0.07, -0.02, 0.07, -0.15, -0.42, -0.25,
                 -0.34, -0.2, -0.38, -0.25, -0.2, -0.38, -0.29, -0.2, -0.07, -0.15, 0.12, 0.03, -0.15, -0.11, -0.34, -0.38, -0.52, -0.48, -0.25, -0.2,
                 -0.34, -0.62, -0.75, -0.34, -0.11, -0.07, 0.07, -0.15, -0.34, -0.7, -1.07, -1.18, -1.18, -0.7, -0.15, -0.2, 0.12, -0.02, 0.3, 0.62,
                 1.22, 1.3, 1.53, 1.71, 1.3, 0.85, 0.58, 0.07, 0.03, -0.07, -0.38]

# ---------------- layout ----------------
W, H = 1257, 741
fig = plt.figure(figsize=(W / 100, H / 100), dpi=100)
fig.patch.set_facecolor('white')


def ax_at(l, t, r, b):
    return fig.add_axes([l / W, 1 - b / H, (r - l) / W, (b - t) / H])


def style(ax, ylim, yticks, ylabels):
    ax.set_xlim(0, 364)
    ax.set_ylim(*ylim)
    xt = np.arange(0, 361, 5)
    ax.set_xticks(xt)
    ax.set_xticklabels([str(v) for v in xt], fontsize=2.4, color='#555555')
    ax.set_yticks(yticks)
    ax.set_yticklabels(ylabels, fontsize=3.2, color='#6b6b2a')
    ax.tick_params(axis='both', length=0, pad=1.5)
    ax.tick_params(axis='y', pad=5)
    ax.grid(True, axis='x', color='#cdcdcd', linestyle=(0, (3, 2)), linewidth=0.6)
    ax.grid(True, axis='y', color='#b4b4b4', linestyle=(0, (3, 2)), linewidth=0.6)
    ax.set_axisbelow(True)
    for s in ('left', 'bottom'):
        ax.spines[s].set_color('#8a8a8a')
        ax.spines[s].set_linewidth(1.6)
    for s in ('top', 'right'):
        ax.spines[s].set_color('#9a9a9a')
        ax.spines[s].set_linewidth(0.9)
        ax.spines[s].set_linestyle((0, (4, 2)))
    ax.set_xlabel('Position', fontsize=2.6, color='#444444', labelpad=1)
    ax.set_ylabel('Mean Hydrophobicity', fontsize=2.6, color='#444444', labelpad=2)


def title(cx, y1):
    fig.text(cx / W, 1 - y1 / H, 'Kyte & Doolittle Scale Mean Hydrophobicity Profile',
             fontsize=3.1, color='#3a3a8c', ha='center', va='center')
    fig.text(cx / W, 1 - (y1 + 6.5) / H, 'Scan-window size = 21',
             fontsize=3.1, color='#3a3a8c', ha='center', va='center')


def ftext(x, y, s, size, color):
    fig.text(x / W, 1 - y / H, s, fontsize=size, color=color, ha='left', va='baseline')


def draw_bundle(ax, series):
    for i, (vals, col) in enumerate(series):
        pos = grid_a if i % 2 == 0 else grid_b
        ax.plot(pos[:len(vals)], vals, color=col, linewidth=0.8, zorder=2)


green_txt = '#1c8c1c'

# --- top-left
ax1 = ax_at(21, 18, 617, 347)
style(ax1, (-2.24, 3.10), [-1.8, -1.2, -0.6, 0, 0.6, 1.2, 1.8, 2.4, 3],
      ['-1.8', '-1.2', '-0.6', '0', '0.6', '1.2', '1.8', '2.4', '3'])
ax1.hlines(0, 10, 355, color='#5ee8f0', linewidth=1.2, zorder=1)
draw_bundle(ax1, [(tmd1_ygreen, '#b8d820'), (tmd1_gray, '#808080'), (tmd1_dkgreen, '#0a7a0a'),
                  (tmd1_purple, '#7030a0'), (tmd1_brown, '#8b4513'), (tmd1_olive, '#a8a800'),
                  (tmd1_cyan, '#00e5ee'), (tmd1_navy, '#000080'), (tmd1_magenta, '#ff00ff'),
                  (tmd1_green, '#00a000'), (tmd1_lime, '#22dd22'), (tmd1_blue, '#0000ff'),
                  (tmd1_red, '#ff0000'), (tmd1_black, 'black')])
title(312, 7)
ftext(42, 47, 'TMD1', 22, green_txt)
ftext(97, 340, 'All sequences except Sav1866', 22.5, green_txt)

# --- bottom-left
ax3 = ax_at(21, 400, 617, 731)
style(ax3, (-1.91, 2.62), [-1.5, -1, -0.5, 0, 0.5, 1, 1.5, 2, 2.5],
      ['-1.5', '-1', '-0.5', '0', '0.5', '1', '1.5', '2', '2.5'])
ax3.hlines(0, 10, 355, color='#5ee8f0', linewidth=1.2, zorder=1)
draw_bundle(ax3, [(tmd2_ygreen, '#b8d820'), (tmd2_gray, '#808080'), (tmd2_dkgreen, '#0a7a0a'),
                  (tmd2_purple, '#7030a0'), (tmd2_brown, '#8b4513'), (tmd2_olive, '#a8a800'),
                  (tmd2_cyan, '#00e5ee'), (tmd2_navy, '#000080'), (tmd2_magenta, '#ff00ff'),
                  (tmd2_green, '#00a000'), (tmd2_lime, '#22dd22'), (tmd2_blue, '#0000ff'),
                  (tmd2_red, '#ff0000'), (tmd2_black, 'black')])
title(312, 389)
ftext(42, 428, 'TMD2', 22, green_txt)
ftext(97, 727, 'All sequences except Sav1866', 22.5, green_txt)

# --- top-right
ax2 = ax_at(658, 17, 1255, 348)
style(ax2, (-2.11, 2.78), [-1.8, -1.2, -0.6, 0, 0.6, 1.2, 1.8, 2.4],
      ['-1.8', '-1.2', '-0.6', '0', '0.6', '1.2', '1.8', '2.4'])
ax2.hlines(0, 10, 356, color='#5ee8f0', linewidth=1.2, zorder=1)
ax2.plot(pdr5_tmd1_pos, pdr5_tmd1_val, color='#ff3030', linewidth=0.9, zorder=2)
ax2.plot(sav_tmd1_pos, sav_tmd1_val, color='#3030ff', linewidth=0.9, zorder=3)
ax2.add_patch(Ellipse((292, 0.03), 139, 3.51, fill=False, edgecolor='#ff1a1a',
                      linewidth=1.8, clip_on=False, zorder=4))
title(950, 7)
ftext(1046, 43, 'Pdr5', 23.5, '#ff1a1a')
ftext(1046, 75, 'Sav1866', 24, '#1a1aff')

# --- bottom-right
ax4 = ax_at(658, 400, 1255, 731)
style(ax4, (-1.91, 2.62), [-1.5, -1, -0.5, 0, 0.5, 1, 1.5, 2, 2.5],
      ['-1.5', '-1', '-0.5', '0', '0.5', '1', '1.5', '2', '2.5'])
ax4.hlines(0, 10, 356, color='#5ee8f0', linewidth=1.2, zorder=1)
ax4.plot(pdr5_tmd2_pos, pdr5_tmd2_val, color='#ff3030', linewidth=0.9, zorder=2)
ax4.plot(sav_tmd2_pos, sav_tmd2_val, color='#3030ff', linewidth=0.9, zorder=3)
ax4.add_patch(Ellipse((320.4, 0.23), 83.5, 3.26, fill=False, edgecolor='#ff1a1a',
                      linewidth=1.8, clip_on=False, zorder=4))
title(950, 389)
ftext(1058, 422, 'Pdr5', 22, '#ff1a1a')
ftext(1058, 460, 'Sav1866', 22, '#1a1aff')

fig.savefig('out.png', dpi=100, facecolor='white')
